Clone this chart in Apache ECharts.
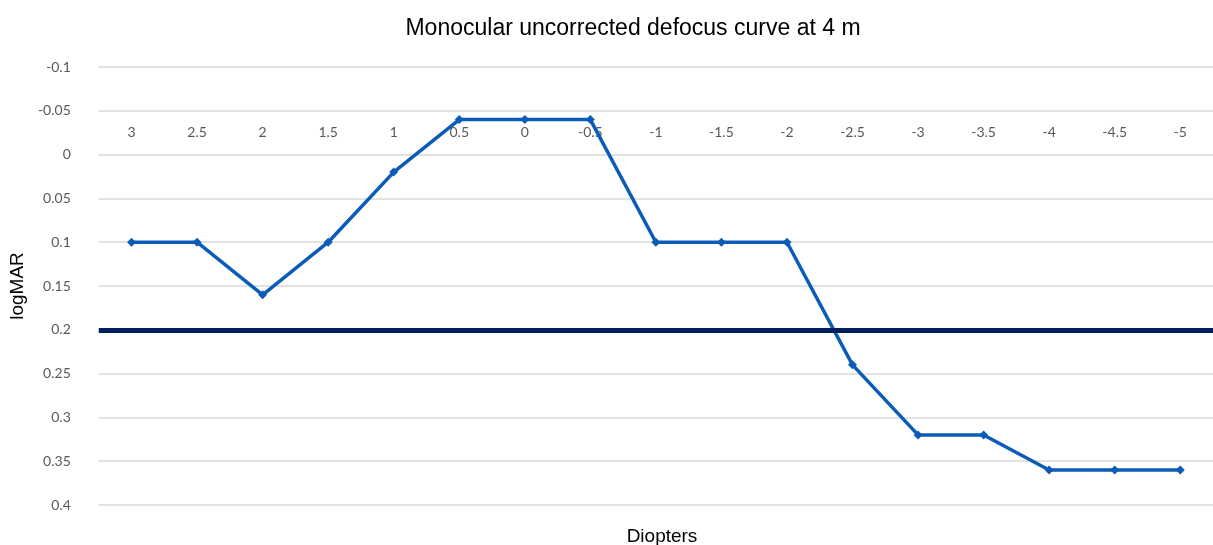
<!DOCTYPE html>
<html>
<head>
<meta charset="utf-8">
<script src="https://cdn.jsdelivr.net/npm/echarts@6/dist/echarts.min.js"></script>
<style>
  html, body { margin: 0; padding: 0; background: #fff; }
  #chart { width: 1213px; height: 545px; }
</style>
</head>
<body>
<div id="chart"></div>
<script>
// defocus in diopters (category labels, left to right)
const diopters = ['3', '2.5', '2', '1.5', '1', '0.5', '0', '-0.5', '-1', '-1.5', '-2', '-2.5', '-3', '-3.5', '-4', '-4.5', '-5']
// logMAR visual acuity at each defocus step
const logMAR = [0.1, 0.1, 0.16, 0.1, 0.02, -0.04, -0.04, -0.04, 0.1, 0.1, 0.1, 0.24, 0.32, 0.32, 0.36, 0.36, 0.36]
// reference threshold line
const threshold = 0.2

const chart = echarts.init(document.getElementById('chart'))
const labelFont = 'Lato, "Liberation Sans", sans-serif'

const option = {
  backgroundColor: '#fff',
  title: [
    {
      text: 'Monocular uncorrected defocus curve at 4 m',
      left: 628,
      top: 12,
      textAlign: 'center',
      textStyle: { fontFamily: '"Liberation Sans", Arial, sans-serif', fontSize: 23, fontWeight: 'normal', color: '#000' }
    },
    {
      text: 'Diopters',
      left: 657,
      top: 522,
      textAlign: 'center',
      textStyle: { fontFamily: '"Liberation Sans", Arial, sans-serif', fontSize: 19, fontWeight: 'normal', color: '#000' }
    }
  ],
  grid: { left: 98, right: -9, top: 67, bottom: 40 },
  xAxis: {
    type: 'category',
    data: diopters,
    position: 'top',
    offset: -88,   // category axis crosses the inverted value axis at 0
    boundaryGap: true,
    axisLine: { show: false },
    axisTick: { show: false },
    splitLine: { show: false },
    axisLabel: { color: '#595959', fontSize: 14, fontFamily: labelFont, margin: 16 }
  },
  yAxis: {
    type: 'value',
    inverse: true,
    min: -0.1,
    max: 0.4,
    interval: 0.05,
    name: 'logMAR',
    nameLocation: 'middle',
    nameRotate: 90,
    nameGap: 60,
    nameTextStyle: { fontFamily: '"Liberation Sans", Arial, sans-serif', fontSize: 19, color: '#000' },
    axisLine: { show: false },
    axisTick: { show: false },
    axisLabel: {
      color: '#595959',
      fontSize: 14,
      fontFamily: labelFont,
      margin: 28,
      formatter: v => String(+v.toFixed(2))
    },
    splitLine: { lineStyle: { color: '#d9d9d9', width: 1.5 } }
  },
  series: [
    {
      type: 'line',
      data: logMAR,
      symbol: 'diamond',
      symbolSize: 9,
      color: '#0a5cb8',
      lineStyle: { width: 3.5, color: '#0a5cb8' },
      itemStyle: { color: '#0a5cb8' },
      animation: false,
      markLine: {
        silent: true,
        symbol: 'none',
        label: { show: false },
        lineStyle: { color: '#001f5c', width: 5, type: 'solid' },
        data: [{ yAxis: threshold }]
      }
    }
  ]
}
chart.setOption(option)
</script>
</body>
</html>
